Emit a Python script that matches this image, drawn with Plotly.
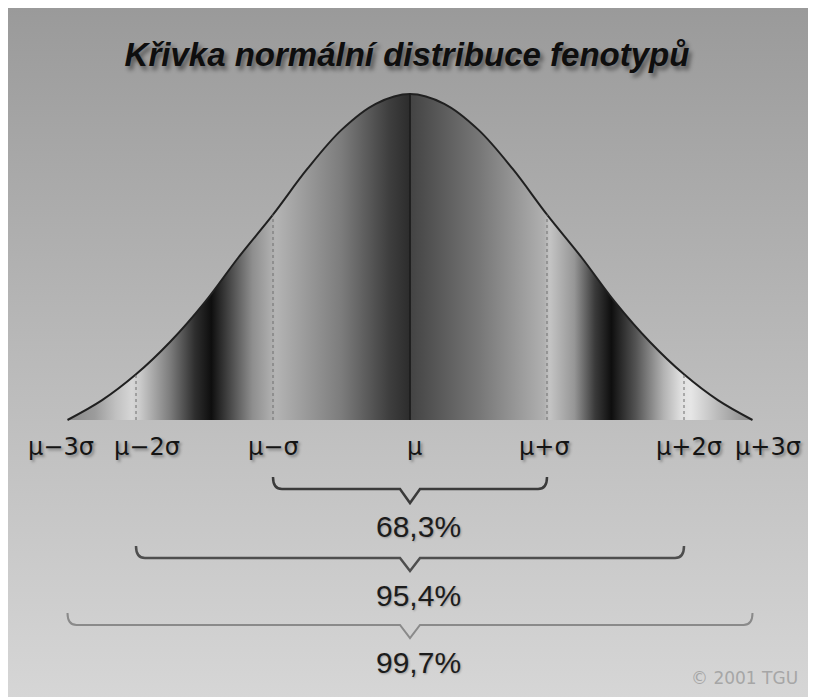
import plotly.graph_objects as go

# ---------------- data ----------------
# curve positions in sigma units and relative heights (peak = 100)
z_pts = [-2.5, -2.25, -2.0, -1.75, -1.5, -1.25, -1.0, -0.75, -0.5, -0.25, 0.0,
         0.25, 0.5, 0.75, 1.0, 1.25, 1.5, 1.75, 2.0, 2.25, 2.5]
curve_h = [0, 6, 14, 24, 36, 50, 63, 77, 89, 97, 100,
           97, 89, 77, 63, 50, 36, 24, 14, 6, 0]
sigma_marks = [-2.0, -1.0, 1.0, 2.0]
mean_mark = 0.0
axis_labels = ["μ−3σ", "μ−2σ", "μ−σ", "μ", "μ+σ", "μ+2σ", "μ+3σ"]
label_pos = [-2.55, -1.92, -1.0, 0.03, 0.98, 2.04, 2.61]
brace_ranges = [(-1.0, 1.0), (-2.0, 2.0), (-2.5, 2.5)]
percents = ["68,3%", "95,4%", "99,7%"]
title_text = "Křivka normální distribuce fenotypů"
credit_text = "© 2001 TGU"

# ---------------- layout helpers (page pixel -> axis units) ----------------
PAGE_W, PAGE_H = 816, 697
OFF = 8                      # default body margin of the html page
W, H = PAGE_W - OFF, PAGE_H - OFF
X0, SX = 410.0, 137.0        # page px of mu, px per sigma
Y0, SY = 420.0, 3.26         # page px of baseline, px per height unit


def ax(px):
    return (px - X0) / SX


def ay(py):
    return (Y0 - py) / SY


xmin, xmax = ax(OFF), ax(PAGE_W)
ymin, ymax = ay(PAGE_H), ay(OFF)

fig = go.Figure()

# background gradient
fig.add_trace(go.Scatter(
    x=[xmin, xmax, xmax, xmin, xmin], y=[ymin, ymin, ymax, ymax, ymin],
    mode="lines", line=dict(width=0), fill="toself",
    fillgradient=dict(type="vertical", start=ymin, stop=ymax,
                      colorscale=[[0, "#d6d6d6"], [0.45, "#bcbcbc"], [1, "#9a9a9a"]]),
    hoverinfo="skip", showlegend=False))


def g(v):
    return "rgb(%d,%d,%d)" % (v, v, v)


band_stops = [(-2.5, 136), (-2.3, 156), (-2.15, 192), (-2.03, 214), (-1.97, 202),
              (-1.75, 124), (-1.57, 46), (-1.45, 14), (-1.3, 78), (-1.15, 142),
              (-1.02, 172), (-0.98, 180), (-0.5, 124), (-0.15, 62), (0.0, 44),
              (0.01, 68), (0.5, 118), (0.98, 176), (1.02, 196), (1.2, 150),
              (1.35, 58), (1.47, 14), (1.65, 84), (1.85, 178), (1.98, 224),
              (2.05, 230), (2.25, 186), (2.5, 134)]
curve_scale = [[(z + 2.5) / 5.0, g(v)] for z, v in band_stops]

# filled normal curve
fig.add_trace(go.Scatter(
    x=z_pts, y=curve_h, mode="lines",
    line=dict(color="#202020", width=2, shape="spline", smoothing=1.0),
    fill="tozeroy",
    fillgradient=dict(type="horizontal", start=z_pts[0], stop=z_pts[-1],
                      colorscale=curve_scale),
    hoverinfo="skip", showlegend=False))

# dotted sigma lines
for m in sigma_marks:
    h = curve_h[z_pts.index(m)]
    fig.add_trace(go.Scatter(x=[m, m], y=[0, h], mode="lines",
                             line=dict(color="#6e6e6e", width=1, dash="dot"),
                             hoverinfo="skip", showlegend=False))
# mean line
fig.add_trace(go.Scatter(x=[mean_mark, mean_mark], y=[0, curve_h[z_pts.index(mean_mark)]],
                         mode="lines", line=dict(color="#1a1a1a", width=1.5),
                         hoverinfo="skip", showlegend=False))

annotations = []
label_font = dict(family="DejaVu Sans", size=24, color="#141414",
                  shadow="2px 2px 3px rgba(0,0,0,0.35)")
for txt, pos in zip(axis_labels, label_pos):
    annotations.append(dict(x=pos, y=ay(447), xref="x", yref="y", text=txt,
                            showarrow=False, xanchor="center", yanchor="middle",
                            font=label_font))

# braces
brace_px = [(477, 489, 503), (546, 558, 571), (613, 625, 638)]
brace_col = ["#3a3a3a", "#4e4e4e", "#8a8a8a"]
brace_w = [2.5, 2.5, 2]
text_py = [526, 595, 662]
shapes = []
r = 9.0
v = 10.0
for (a, b), (pt, pl, pk), col, lw, txt, ty in zip(brace_ranges, brace_px, brace_col,
                                                  brace_w, percents, text_py):
    c = (a + b) / 2.0
    rx = r / SX
    vx = v / SX
    path = ("M {a:.4f},{yt:.4f} Q {a:.4f},{yl:.4f} {a2:.4f},{yl:.4f} "
            "L {c1:.4f},{yl:.4f} L {c:.4f},{yk:.4f} L {c2:.4f},{yl:.4f} "
            "L {b2:.4f},{yl:.4f} Q {b:.4f},{yl:.4f} {b:.4f},{yt:.4f}").format(
        a=a, b=b, a2=a + rx, b2=b - rx, c=c, c1=c - vx, c2=c + vx,
        yt=ay(pt), yl=ay(pl), yk=ay(pk))
    shapes.append(dict(type="path", path=path, xref="x", yref="y",
                       line=dict(color=col, width=lw)))
    annotations.append(dict(x=c + 8 / SX, y=ay(ty), xref="x", yref="y", text=txt,
                            showarrow=False, xanchor="center", yanchor="middle",
                            font=dict(family="Liberation Sans Narrow, Liberation Sans, sans-serif",
                                      size=30, color="#1c1c1c",
                                      shadow="1px 1px 2px rgba(0,0,0,0.25)")))

annotations.append(dict(x=ax(744), y=ay(678), xref="x", yref="y", text=credit_text,
                        showarrow=False, xanchor="center", yanchor="middle",
                        font=dict(family="DejaVu Sans", size=17, color="#a6a6a6")))

fig.update_layout(
    width=W, height=H,
    margin=dict(l=0, r=0, t=0, b=0, pad=0),
    paper_bgcolor="#ffffff", plot_bgcolor="#c0c0c0",
    title=dict(text=title_text, x=(407 - OFF) / W, xref="container", xanchor="center",
               y=1 - (54 - OFF) / H, yref="container", yanchor="middle",
               font=dict(family="Liberation Sans Narrow, Liberation Sans, sans-serif",
                         size=33, color="#0e0e0e", weight="bold", style="italic",
                         shadow="3px 4px 4px rgba(0,0,0,0.45)")),
    xaxis=dict(range=[xmin, xmax], visible=False, fixedrange=True),
    yaxis=dict(range=[ymin, ymax], visible=False, fixedrange=True),
    shapes=shapes, annotations=annotations, showlegend=False,
)

fig.write_html("out.html")
